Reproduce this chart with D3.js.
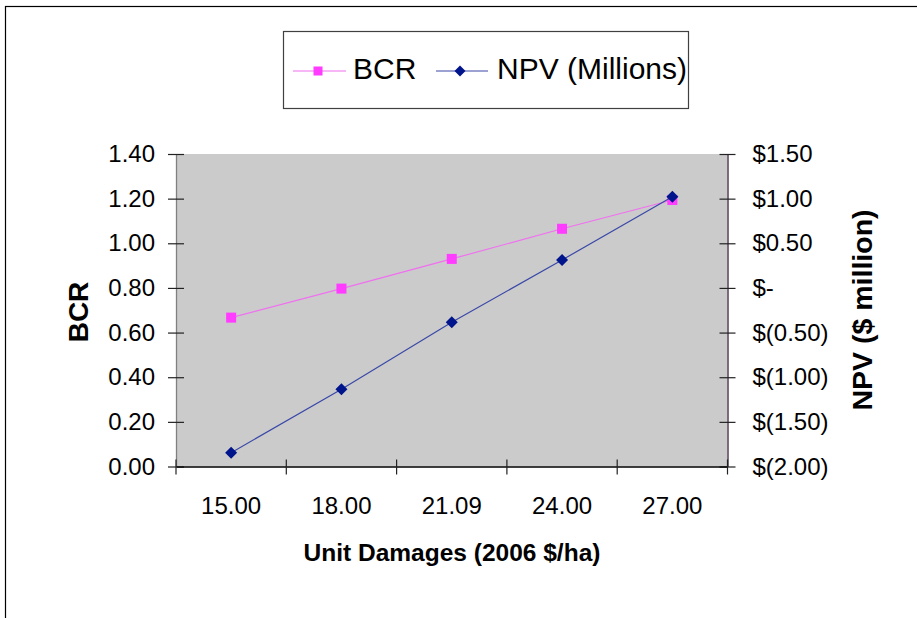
<!DOCTYPE html>
<html><head><meta charset="utf-8">
<script src="https://cdn.jsdelivr.net/npm/d3@7"></script>
<style>
html,body{margin:0;padding:0;background:#fff;}
svg{display:block;font-family:"Liberation Sans",Arial,sans-serif;}
</style></head>
<body>
<svg id="chart" width="917" height="618"></svg>
<script>
const categories = ["15.00", "18.00", "21.09", "24.00", "27.00"];
const bcrValues = [0.667, 0.797, 0.930, 1.065, 1.194];
const npvValues = [-1.845, -1.135, -0.385, 0.313, 1.022];
const bcrTicks = [0, 0.2, 0.4, 0.6, 0.8, 1.0, 1.2, 1.4];
const npvTicks = [-2, -1.5, -1, -0.5, 0, 0.5, 1, 1.5];
const npvTickLabels = ["$(2.00)", "$(1.50)", "$(1.00)", "$(0.50)", "$-", "$0.50", "$1.00", "$1.50"];
const seriesNames = ["BCR", "NPV (Millions)"];

const svg = d3.select("#chart");
const L = 176, R = 727.5, T = 154, B = 466.5;
const FONT = "Liberation Sans, Arial, sans-serif";

// outer frame
svg.append("rect").attr("x", 5.5).attr("y", 6.5).attr("width", 1000).attr("height", 1000)
  .attr("fill", "none").attr("stroke", "#000").attr("stroke-width", 1.2);

const x = d3.scaleBand().domain(categories).range([L, R]).padding(0);
const yL = d3.scaleLinear().domain([0, 1.4]).range([B, T]);
const yR = d3.scaleLinear().domain([-2, 1.5]).range([B, T]);

// plot area
svg.append("rect").attr("x", L).attr("y", T).attr("width", R - L).attr("height", B - T).attr("fill", "#cbcbcb");

// left axis
const gl = svg.append("g").attr("transform", `translate(${L},0)`)
  .call(d3.axisLeft(yL).tickValues(bcrTicks).tickFormat(d3.format(".2f")).tickSize(0).tickPadding(21));
gl.select(".domain").attr("stroke", "#808080").attr("stroke-width", 1.3);
gl.selectAll(".tick text").attr("font-size", 24).attr("fill", "#000").attr("font-family", FONT);
gl.selectAll(".tick").append("line").attr("x1", -8).attr("x2", 8).attr("stroke", "#222").attr("stroke-width", 1.2);

// right axis
const gr = svg.append("g").attr("transform", `translate(${R},0)`)
  .call(d3.axisRight(yR).tickValues(npvTicks).tickFormat((d, i) => npvTickLabels[i]).tickSize(0).tickPadding(25));
gr.select(".domain").attr("stroke", "#5e4a60").attr("stroke-width", 1.6);
gr.selectAll(".tick text").attr("font-size", 24).attr("fill", "#000").attr("font-family", FONT);
gr.selectAll(".tick").append("line").attr("x1", -8).attr("x2", 8).attr("stroke", "#222").attr("stroke-width", 1.2);

// bottom axis
const gb = svg.append("g").attr("transform", `translate(0,${B})`)
  .call(d3.axisBottom(x).tickSize(0).tickPadding(30));
gb.select(".domain").attr("stroke", "#000").attr("stroke-width", 1.3);
gb.selectAll(".tick text").attr("font-size", 24).attr("fill", "#000").attr("font-family", FONT);
const edges = categories.map(c => x(c)).concat([x(categories[categories.length - 1]) + x.bandwidth()]);
gb.selectAll(".edge").data(edges).join("line").attr("class", "edge")
  .attr("x1", d => d).attr("x2", d => d).attr("y1", -7).attr("y2", 8)
  .attr("stroke", "#222").attr("stroke-width", 1.2);

const cx = c => x(c) + x.bandwidth() / 2;

// BCR series
svg.append("path").datum(bcrValues)
  .attr("d", d3.line().x((d, i) => cx(categories[i])).y(d => yL(d)))
  .attr("fill", "none").attr("stroke", "#f070f0").attr("stroke-width", 1.2);
svg.selectAll(".bcr").data(bcrValues).join("rect").attr("class", "bcr")
  .attr("x", (d, i) => cx(categories[i]) - 5).attr("y", d => yL(d) - 5)
  .attr("width", 10).attr("height", 10).attr("fill", "#ff3cff");

// NPV series
svg.append("path").datum(npvValues)
  .attr("d", d3.line().x((d, i) => cx(categories[i])).y(d => yR(d)))
  .attr("fill", "none").attr("stroke", "#3a48a8").attr("stroke-width", 1.2);
svg.selectAll(".npv").data(npvValues).join("path").attr("class", "npv")
  .attr("d", "M0,-6L6,0L0,6L-6,0Z")
  .attr("transform", (d, i) => `translate(${cx(categories[i])},${yR(d)})`)
  .attr("fill", "#00148c");

// axis titles
svg.append("text").attr("x", 452).attr("y", 561).attr("text-anchor", "middle")
  .attr("font-size", 24.5).attr("font-weight", "bold")
  .text("Unit Damages (2006 $/ha)");
svg.append("text").attr("transform", "translate(88,312) rotate(-90)").attr("text-anchor", "middle")
  .attr("font-size", 28).attr("font-weight", "bold")
  .text("BCR");
svg.append("text").attr("transform", "translate(872,310) rotate(-90)").attr("text-anchor", "middle")
  .attr("font-size", 28.5).attr("font-weight", "bold")
  .text("NPV ($ million)");

// legend
const lg = svg.append("g");
lg.append("rect").attr("x", 283.5).attr("y", 31.5).attr("width", 405).attr("height", 77)
  .attr("fill", "#fff").attr("stroke", "#404040").attr("stroke-width", 1.2);
lg.append("line").attr("x1", 293).attr("x2", 346).attr("y1", 71).attr("y2", 71).attr("stroke", "#f070f0").attr("stroke-width", 1.2);
lg.append("rect").attr("x", 313.5).attr("y", 66.5).attr("width", 9).attr("height", 9).attr("fill", "#ff3cff");
lg.append("text").attr("x", 353).attr("y", 79).attr("font-size", 30).text(seriesNames[0]);
lg.append("line").attr("x1", 436).attr("x2", 488).attr("y1", 71).attr("y2", 71).attr("stroke", "#3a48a8").attr("stroke-width", 1.2);
lg.append("path").attr("d", "M0,-5.5L5.5,0L0,5.5L-5.5,0Z").attr("transform", "translate(460,71)").attr("fill", "#00148c");
lg.append("text").attr("x", 497).attr("y", 79).attr("font-size", 30).text(seriesNames[1]);
</script>
</body></html>
